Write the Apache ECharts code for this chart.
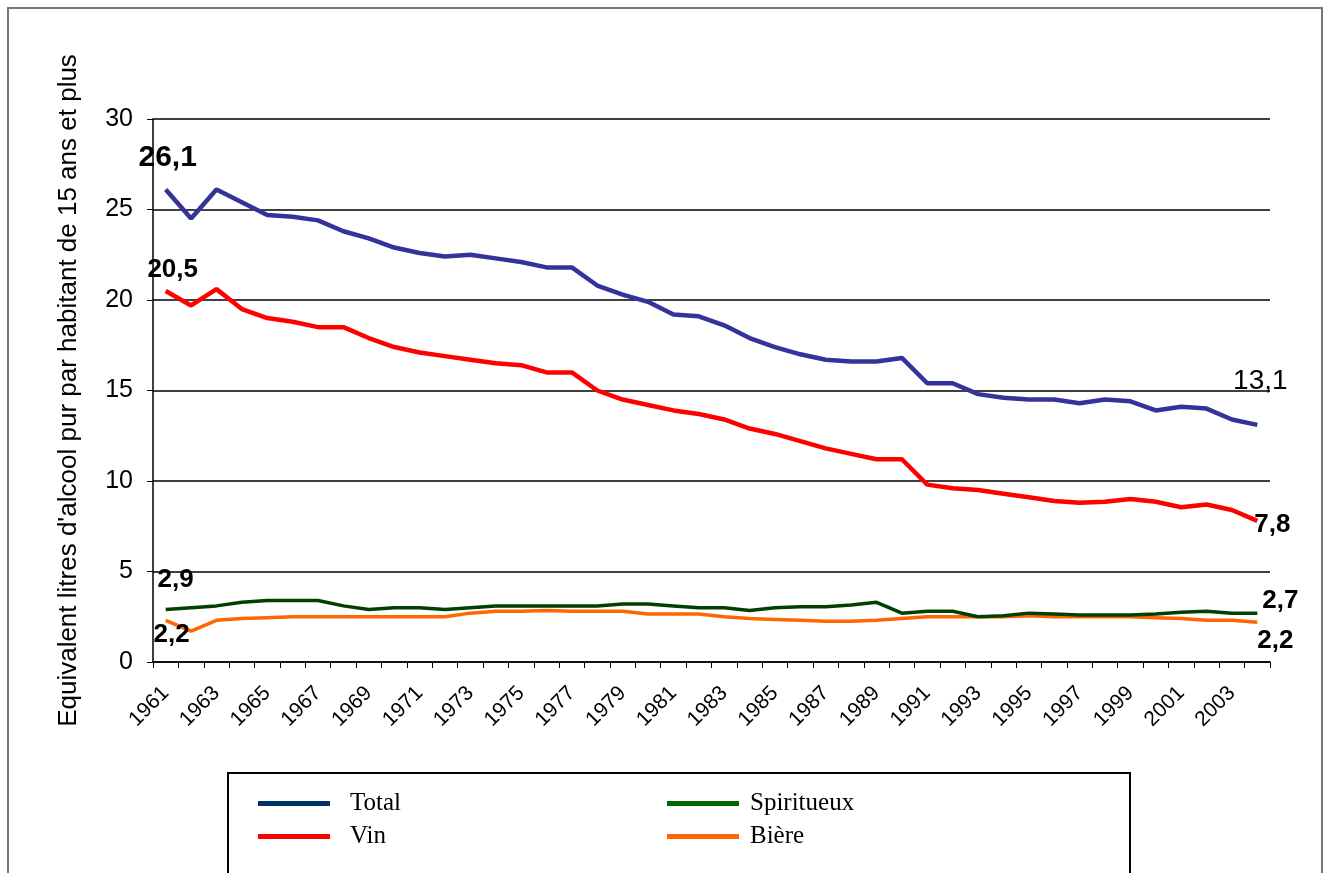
<!DOCTYPE html>
<html>
<head>
<meta charset="utf-8">
<script src="https://cdn.jsdelivr.net/npm/echarts@6/dist/echarts.min.js"></script>
<style>
  html, body { margin: 0; padding: 0; background: #fff; }
  #chart { width: 1332px; height: 873px; }
</style>
</head>
<body>
<div id="chart"></div>
<script>
// years on the x axis
const years = [];
for (let y = 1961; y <= 2004; y++) years.push(String(y));

// litres of pure alcohol per inhabitant aged 15+
const total = [26.1, 24.5, 26.1, 25.4, 24.7, 24.6, 24.4, 23.8, 23.4, 22.9,
    22.6, 22.4, 22.5, 22.3, 22.1, 21.8, 21.8, 20.8, 20.3, 19.9,
    19.2, 19.1, 18.6, 17.9, 17.4, 17.0, 16.7, 16.6, 16.6, 16.8,
    15.4, 15.4, 14.8, 14.6, 14.5, 14.5, 14.3, 14.5, 14.4, 13.9,
    14.1, 14.0, 13.4, 13.1];
const vin = [20.5, 19.7, 20.6, 19.5, 19.0, 18.8, 18.5, 18.5, 17.9, 17.4,
    17.1, 16.9, 16.7, 16.5, 16.4, 16.0, 16.0, 15.0, 14.5, 14.2,
    13.9, 13.7, 13.4, 12.9, 12.6, 12.2, 11.8, 11.5, 11.2, 11.2,
    9.8, 9.6, 9.5, 9.3, 9.1, 8.9, 8.8, 8.85, 9.0, 8.85,
    8.55, 8.7, 8.4, 7.8];
const spiritueux = [2.9, 3.0, 3.1, 3.3, 3.4, 3.4, 3.4, 3.1, 2.9, 3.0,
    3.0, 2.9, 3.0, 3.1, 3.1, 3.1, 3.1, 3.1, 3.2, 3.2,
    3.1, 3.0, 3.0, 2.85, 3.0, 3.05, 3.05, 3.15, 3.3, 2.7,
    2.8, 2.8, 2.5, 2.55, 2.7, 2.65, 2.6, 2.6, 2.6, 2.65,
    2.75, 2.8, 2.7, 2.7];
const biere = [2.3, 1.7, 2.3, 2.4, 2.45, 2.5, 2.5, 2.5, 2.5, 2.5,
    2.5, 2.5, 2.7, 2.8, 2.8, 2.85, 2.8, 2.8, 2.8, 2.65,
    2.65, 2.65, 2.5, 2.4, 2.35, 2.3, 2.25, 2.25, 2.3, 2.4,
    2.5, 2.5, 2.5, 2.5, 2.55, 2.5, 2.5, 2.5, 2.5, 2.45,
    2.4, 2.3, 2.3, 2.2];

const seriesNames = ['Total', 'Vin', 'Spiritueux', 'Bière'];

// only first and last value carry a label
function withEndLabels(values, first, last) {
    return values.map(function (v, i) {
        if (i === 0 && first) return { value: v, label: Object.assign({ show: true }, first) };
        if (i === values.length - 1 && last) return { value: v, label: Object.assign({ show: true }, last) };
        return v;
    });
}

function lbl(text, offset, size, weight) {
    return {
        position: 'inside',
        offset: offset,
        formatter: text,
        fontFamily: 'Liberation Sans, Arial, sans-serif',
        fontSize: size,
        fontWeight: weight,
        color: '#000'
    };
}

function lineSeries(name, values, color, width, first, last, z) {
    return {
        name: name,
        type: 'line',
        data: withEndLabels(values, first, last),
        symbol: 'circle',
        symbolSize: 0,
        showAllSymbol: true,
        lineStyle: { color: color, width: width },
        itemStyle: { color: color },
        emphasis: { disabled: true },
        animation: false,
        z: z
    };
}

const chart = echarts.init(document.getElementById('chart'), null, { renderer: 'canvas' });

function legendText(pad) {
    return {
        fontFamily: 'Liberation Serif, Times New Roman, serif',
        fontSize: 25,
        color: '#000',
        padding: [0, 0, 0, pad]
    };
}

chart.setOption({
    backgroundColor: '#fff',
    animation: false,
    grid: { left: 153, right: 62, top: 119, bottom: 211 },
    xAxis: {
        type: 'category',
        data: years,
        boundaryGap: true,
        axisLine: { lineStyle: { color: '#000', width: 1.5 } },
        axisTick: { show: true, alignWithLabel: false, interval: 0, length: 6, lineStyle: { color: '#000' } },
        axisLabel: {
            interval: 1,
            rotate: 45,
            margin: 28,
            fontFamily: 'Liberation Sans, Arial, sans-serif',
            fontSize: 21,
            color: '#000'
        }
    },
    yAxis: {
        type: 'value',
        min: 0,
        max: 30,
        interval: 5,
        name: "Equivalent litres d'alcool pur par habitant de 15 ans et plus",
        nameLocation: 'middle',
        nameRotate: 90,
        nameGap: 71,
        nameTextStyle: {
            fontFamily: 'Liberation Sans, Arial, sans-serif',
            fontSize: 26,
            color: '#000'
        },
        axisLine: { show: true, lineStyle: { color: '#000', width: 1.5 } },
        axisTick: { show: true, length: 6, lineStyle: { color: '#000' } },
        axisLabel: {
            margin: 20,
            fontFamily: 'Liberation Sans, Arial, sans-serif',
            fontSize: 25,
            color: '#000'
        },
        splitLine: { lineStyle: { color: '#000', width: 1.5 } }
    },
    legend: [{
        data: [
            { name: seriesNames[0], itemStyle: { color: '#003366' } },
            { name: seriesNames[1], itemStyle: { color: '#ff0000' } }
        ],
        orient: 'vertical',
        left: 253,
        top: 786,
        icon: 'rect',
        itemWidth: 72,
        itemHeight: 5,
        itemGap: 8,
        selectedMode: false,
        textStyle: legendText(15)
    }, {
        data: [
            { name: seriesNames[2], itemStyle: { color: '#006600' } },
            { name: seriesNames[3], itemStyle: { color: '#ff6600' } }
        ],
        orient: 'vertical',
        left: 662,
        top: 786,
        icon: 'rect',
        itemWidth: 72,
        itemHeight: 5,
        itemGap: 8,
        selectedMode: false,
        textStyle: legendText(6)
    }],
    graphic: [{
        type: 'rect',
        shape: { x: 8, y: 8, width: 1314, height: 900 },
        style: { fill: null, stroke: '#777', lineWidth: 2 },
        silent: true
    }, {
        type: 'rect',
        shape: { x: 228, y: 773, width: 902, height: 120 },
        style: { fill: null, stroke: '#000', lineWidth: 2 },
        silent: true
    }],
    series: [
        lineSeries(seriesNames[0], total, '#333399', 4.5,
            lbl('26,1', [2, -32], 30, 'bold'), lbl('13,1', [3, -44], 28, 'normal'), 4),
        lineSeries(seriesNames[1], vin, '#ff0000', 4.5,
            lbl('20,5', [7, -21], 26, 'bold'), lbl('7,8', [15, 4], 26, 'bold'), 3),
        lineSeries(seriesNames[2], spiritueux, '#004000', 3.5,
            lbl('2,9', [10, -30], 26, 'bold'), lbl('2,7', [23, -12], 26, 'bold'), 2),
        lineSeries(seriesNames[3], biere, '#ff6600', 3.5,
            lbl('2,2', [6, 14], 26, 'bold'), lbl('2,2', [18, 19], 26, 'bold'), 1)
    ]
});
</script>
</body>
</html>
